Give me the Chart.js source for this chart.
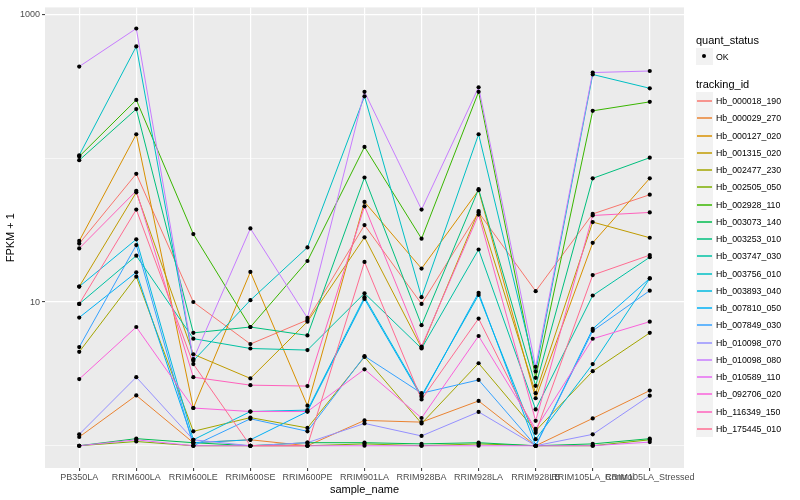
<!DOCTYPE html>
<html><head><meta charset="utf-8">
<script src="https://cdn.jsdelivr.net/npm/chart.js@4.4.0/dist/chart.umd.min.js"></script>
<style>
html,body{margin:0;padding:0;background:#fff;}
#wrap{position:relative;width:800px;height:500px;overflow:hidden;}
#c{position:absolute;left:0;top:0;}
#legend{position:absolute;left:696px;top:0;width:104px;height:500px;font-family:"Liberation Sans",Arial,sans-serif;color:#000;}
.ttl{position:absolute;left:0;font-size:11px;white-space:nowrap;line-height:12px;}
.key{position:absolute;left:0;width:17px;background:#F2F2F2;}
.key i{position:absolute;left:1px;width:15px;top:8px;height:2px;opacity:0.75;}
.key b{position:absolute;left:6px;top:6px;width:4px;height:4px;border-radius:50%;background:#000;}
.lbl{position:absolute;left:20px;font-size:8.8px;white-space:nowrap;line-height:10px;}
</style></head>
<body>
<div id="wrap">
<canvas id="c" width="800" height="500"></canvas>
<div id="legend"></div>
</div>
<script>
const categories = ["PB350LA","RRIM600LA","RRIM600LE","RRIM600SE","RRIM600PE","RRIM901LA","RRIM928BA","RRIM928LA","RRIM928LB","RRIM105LA_Control","RRIM105LA_Stressed"];

// FPKM + 1 per sample, one array per tracking_id
const Hb_000018_190 = [25.5, 78, 10, 5.1, 7.5, 34.3, 9.7, 42, 11.9, 41, 55.8];
const Hb_000029_270 = [1.15, 2.24, 1.05, 1.1, 1.0, 1.5, 1.46, 2.05, 1.0, 1.55, 2.42];
const Hb_000127_020 = [26.6, 147, 1.83, 16.2, 1.9, 49.7, 17.1, 60, 2.14, 25.8, 72.6];
const Hb_001315_020 = [12.8, 58, 4.33, 2.94, 7.3, 28.2, 4.8, 43, 2.32, 36, 28];
const Hb_002477_230 = [4.5, 15.0, 1.26, 1.57, 1.33, 4.15, 1.43, 3.75, 1.27, 3.3, 6.1];
const Hb_002505_050 = [1.0, 1.07, 1.0, 1.0, 1.0, 1.03, 1.0, 1.03, 1.0, 1.0, 1.1];
const Hb_002928_110 = [103, 255, 29.7, 6.7, 19.3, 120, 27.6, 290, 2.97, 214, 247];
const Hb_003073_140 = [1.0, 1.12, 1.05, 1.0, 1.05, 1.05, 1.03, 1.05, 1.0, 1.03, 1.12];
const Hb_003253_010 = [97, 220, 6.1, 6.7, 5.86, 73.5, 6.9, 61, 2.61, 72.5, 101];
const Hb_003747_030 = [9.7, 21, 5.56, 4.75, 4.63, 11.5, 4.75, 23.2, 1.79, 11.1, 20.5];
const Hb_003756_010 = [105, 600, 3.9, 10.3, 24.0, 270, 10.8, 147, 3.29, 383, 307];
const Hb_003893_040 = [12.8, 27.3, 1.1, 1.73, 1.77, 10.8, 2.23, 11.2, 1.11, 3.7, 14.6];
const Hb_007810_050 = [7.8, 16.1, 1.05, 1.1, 1.73, 10.5, 2.18, 11.6, 1.0, 6.5, 14.6];
const Hb_007849_030 = [4.86, 24.9, 1.0, 1.54, 1.26, 4.2, 2.32, 2.87, 1.0, 6.3, 12.0];
const Hb_010098_070 = [1.2, 3.0, 1.1, 1.0, 1.05, 1.43, 1.17, 1.72, 1.0, 1.2, 2.23];
const Hb_010098_080 = [435, 800, 4.0, 32.5, 7.75, 290, 44, 312, 3.54, 395, 405];
const Hb_010589_110 = [1.0, 1.1, 1.0, 1.0, 1.0, 1.0, 1.0, 1.0, 1.0, 1.0, 1.06];
const Hb_092706_020 = [2.91, 6.7, 1.83, 1.73, 1.73, 3.4, 1.56, 5.8, 1.31, 5.55, 7.3];
const Hb_116349_150 = [23.6, 59.4, 3.0, 2.64, 2.6, 46.3, 4.9, 40.6, 1.49, 40, 42];
const Hb_175445_010 = [9.7, 44, 3.7, 1.0, 1.0, 19.0, 2.1, 7.67, 1.23, 15.4, 21.2];

const seriesNames = ["Hb_000018_190","Hb_000029_270","Hb_000127_020","Hb_001315_020","Hb_002477_230","Hb_002505_050","Hb_002928_110","Hb_003073_140","Hb_003253_010","Hb_003747_030","Hb_003756_010","Hb_003893_040","Hb_007810_050","Hb_007849_030","Hb_010098_070","Hb_010098_080","Hb_010589_110","Hb_092706_020","Hb_116349_150","Hb_175445_010"];
const seriesValues = [Hb_000018_190,Hb_000029_270,Hb_000127_020,Hb_001315_020,Hb_002477_230,Hb_002505_050,Hb_002928_110,Hb_003073_140,Hb_003253_010,Hb_003747_030,Hb_003756_010,Hb_003893_040,Hb_007810_050,Hb_007849_030,Hb_010098_070,Hb_010098_080,Hb_010589_110,Hb_092706_020,Hb_116349_150,Hb_175445_010];
const seriesColors = ["#F8766D","#EA8331","#D89000","#C09B00","#A3A500","#7CAE00","#39B600","#00BB4E","#00BF7D","#00C1A3","#00BFC4","#00BAE0","#00B0F6","#35A2FF","#9590FF","#C77CFF","#E76BF3","#FA62DB","#FF62BC","#FF6C91"];
const yTickValues = [1, 10, 100, 1000];
const yTickLabels = ["", "10", "", "1000"];

const FONT = "'Liberation Sans', Arial, Helvetica, sans-serif";
Chart.defaults.font.family = FONT;

const datasets = seriesNames.map((name, s) => ({
  type: 'line',
  label: name,
  data: seriesValues[s].map((v, i) => ({x: i, y: v})),
  borderColor: seriesColors[s],
  backgroundColor: seriesColors[s],
  borderWidth: 1,
  pointRadius: 0,
  fill: false,
  tension: 0,
  order: seriesNames.length - s + 1
}));
const allPoints = [];
seriesValues.forEach(arr => arr.forEach((v, i) => allPoints.push({x: i, y: v})));
datasets.push({
  type: 'scatter',
  label: 'OK',
  data: allPoints,
  showLine: false,
  pointRadius: 2.1,
  pointBackgroundColor: '#000',
  pointBorderWidth: 0,
  order: 0
});

const panelBg = {
  id: 'panelBg',
  beforeDraw(chart) {
    const {ctx, chartArea: a} = chart;
    ctx.save();
    ctx.fillStyle = '#fff';
    ctx.fillRect(0, 0, chart.width, chart.height);
    ctx.fillStyle = '#EBEBEB';
    ctx.fillRect(a.left, a.top, a.right - a.left, a.bottom - a.top);
    ctx.restore();
  }
};

new Chart(document.getElementById('c'), {
  data: {datasets},
  plugins: [panelBg],
  options: {
    responsive: false,
    animation: false,
    devicePixelRatio: 1,
    layout: {padding: {left: 0, right: 116, top: 5, bottom: 0}},
    plugins: {legend: {display: false}, tooltip: {enabled: false}},
    scales: {
      x: {
        type: 'linear', min: -0.6, max: 10.6,
        afterBuildTicks: s => { s.ticks = categories.map((c, i) => ({value: i})); },
        afterFit: s => { s.height = 32; },
        ticks: {
          callback: v => categories[v], autoSkip: false, maxRotation: 0, minRotation: 0,
          color: '#4D4D4D', font: {size: 9, family: FONT}, padding: 1
        },
        grid: {color: '#FFFFFF', lineWidth: 1.2, drawTicks: true, tickLength: 3, tickColor: '#333333', tickWidth: 1},
        border: {display: false},
        title: {display: true, text: 'sample_name', color: '#000', font: {size: 11, family: FONT}, padding: {top: 0, bottom: 3}}
      },
      y: {
        type: 'logarithmic', min: 0.72, max: 1122,
        afterBuildTicks: s => { s.ticks = yTickValues.map(v => ({value: v})); },
        afterFit: s => { s.width = 45; },
        ticks: {
          callback: v => yTickLabels[yTickValues.indexOf(v)] || '',
          color: '#4D4D4D', font: {size: 9, family: FONT}, padding: 2, autoSkip: false
        },
        grid: {
          color: '#FFFFFF',
          lineWidth: c => (c.tick && (c.tick.value === 10 || c.tick.value === 1000)) ? 1.2 : 0.6,
          drawTicks: true, tickLength: 3,
          tickColor: c => (c.tick && (c.tick.value === 10 || c.tick.value === 1000)) ? '#333333' : 'rgba(0,0,0,0)',
          tickWidth: 1
        },
        border: {display: false},
        title: {display: true, text: 'FPKM + 1', color: '#000', font: {size: 11, family: FONT}, padding: {top: 4, bottom: 0}}
      }
    }
  }
});

// ggplot-style legend (real text)
const lg = document.getElementById('legend');
function add(html) { lg.insertAdjacentHTML('beforeend', html); }
add('<div class="ttl" style="top:34px">quant_status</div>');
add('<div class="key" style="top:48px;height:17px"><b></b></div><div class="lbl" style="top:52px">OK</div>');
add('<div class="ttl" style="top:78px">tracking_id</div>');
seriesNames.forEach((n, s) => {
  const top = Math.round(92 + s * 17.25);
  const next = Math.round(92 + (s + 1) * 17.25);
  add('<div class="key" style="top:' + top + 'px;height:' + (next - top) + 'px"><i style="background:' + seriesColors[s] + '"></i></div>' +
      '<div class="lbl" style="top:' + (top + 4) + 'px">' + n + '</div>');
});
</script>
</body></html>
